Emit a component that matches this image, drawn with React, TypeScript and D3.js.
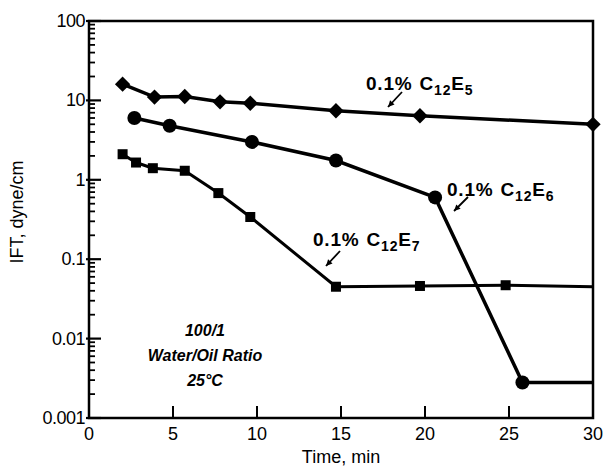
import * as d3 from "d3";

// IFT vs time, three surfactants
const e5Time = [2, 3.9, 5.7, 7.8, 9.6, 14.7, 19.7, 30];
const e5Ift = [16, 11, 11.2, 9.6, 9.2, 7.4, 6.4, 5.0];

const e6Time = [2.7, 4.8, 9.7, 14.7, 20.6, 25.8, 30];
const e6Ift = [6.0, 4.8, 3.0, 1.75, 0.6, 0.0028, 0.0028];
const e6Marked = [true, true, true, true, true, true, false];

const e7Time = [2, 2.8, 3.8, 5.7, 7.7, 9.6, 14.7, 19.7, 24.8, 30];
const e7Ift = [2.1, 1.65, 1.4, 1.3, 0.68, 0.34, 0.045, 0.046, 0.047, 0.045];
const e7Marked = [true, true, true, true, true, true, true, true, true, false];

const xTicks = [0, 5, 10, 15, 20, 25, 30];
const yTicks = [0.001, 0.01, 0.1, 1, 10, 100];
const yTickLabels = ["0.001", "0.01", "0.1", "1", "10", "100"];

const W = 605;
const H = 467;
const font = "'Liberation Sans', Arial, sans-serif";

const x = d3.scaleLinear().domain([0, 30]).range([89, 593]);
const y = d3.scaleLog().domain([0.001, 100]).range([418, 21]);

const line = d3
  .line<[number, number]>()
  .x((d) => x(d[0]))
  .y((d) => y(d[1]));

const zip = (t: number[], v: number[]) => t.map((d, i) => [d, v[i]] as [number, number]);

// minor ticks 2..9 inside each decade
const minorTicks: number[] = [];
yTicks.slice(0, -1).forEach((d) => {
  for (let k = 2; k <= 9; k++) minorTicks.push(d * k);
});

const Label = ({ lx, ly, n }: { lx: number; ly: number; n: string }) => (
  <text x={lx} y={ly} fontFamily={font} fontWeight="bold" fontSize={19} letterSpacing={0.8}>
    0.1%
    <tspan dx={7}>C</tspan>
    <tspan fontSize={14} dy={5}>12</tspan>
    <tspan dy={-5}>E</tspan>
    <tspan fontSize={14} dy={5}>{n}</tspan>
  </text>
);

const Arrow = ({ x1, y1, x2, y2 }: { x1: number; y1: number; x2: number; y2: number }) => {
  const a = Math.atan2(y2 - y1, x2 - x1);
  const s = 7;
  const p1 = [x2 - s * Math.cos(a - 0.45), y2 - s * Math.sin(a - 0.45)];
  const p2 = [x2 - s * Math.cos(a + 0.45), y2 - s * Math.sin(a + 0.45)];
  return (
    <g>
      <line x1={x1} y1={y1} x2={x2} y2={y2} stroke="#000" strokeWidth={1.8} />
      <path d={`M${x2},${y2}L${p1[0]},${p1[1]}L${p2[0]},${p2[1]}Z`} fill="#000" />
    </g>
  );
};

export default function App() {
  const e5 = zip(e5Time, e5Ift);
  const e6 = zip(e6Time, e6Ift);
  const e7 = zip(e7Time, e7Ift);

  return (
    <div style={{ position: "fixed", left: 0, top: 0, width: W, height: H, background: "#fff" }}>
      <svg width={W} height={H}>
        <rect width={W} height={H} fill="#fff" />

        {/* frame */}
        <rect
          x={x(0)}
          y={y(100)}
          width={x(30) - x(0)}
          height={y(0.001) - y(100)}
          fill="none"
          stroke="#000"
          strokeWidth={2.5}
        />

        {/* y ticks */}
        {yTicks.map((d, i) => (
          <g key={"yt" + d}>
            <line x1={x(0) - 3} x2={x(0) + 12} y1={y(d)} y2={y(d)} stroke="#000" strokeWidth={2.2} />
            <text
              x={x(0) - 4}
              y={y(d) + 6}
              textAnchor="end"
              fontFamily={font}
              fontSize={18}
              letterSpacing={-0.5}
            >
              {yTickLabels[i]}
            </text>
          </g>
        ))}
        {minorTicks.map((d) => (
          <line key={"ym" + d} x1={x(0)} x2={x(0) + 6} y1={y(d)} y2={y(d)} stroke="#000" strokeWidth={1.8} />
        ))}

        {/* x ticks */}
        {xTicks.map((d) => (
          <g key={"xt" + d}>
            {d > 0 && d < 30 && (
              <line x1={x(d)} x2={x(d)} y1={y(0.001)} y2={y(0.001) - 12} stroke="#000" strokeWidth={2} />
            )}
            <text x={x(d)} y={y(0.001) + 22} textAnchor="middle" fontFamily={font} fontSize={18}>
              {d}
            </text>
          </g>
        ))}

        {/* axis titles */}
        <text x={x(15)} y={463} textAnchor="middle" fontFamily={font} fontSize={18}>
          Time, min
        </text>
        <text
          transform={`translate(23,212) rotate(-90)`}
          textAnchor="middle"
          fontFamily={font}
          fontSize={18}
        >
          IFT, dyne/cm
        </text>

        {/* series lines */}
        <path d={line(e5) || ""} fill="none" stroke="#000" strokeWidth={3.5} />
        <path d={line(e6) || ""} fill="none" stroke="#000" strokeWidth={3.5} />
        <path d={line(e7) || ""} fill="none" stroke="#000" strokeWidth={3} />

        {/* markers */}
        {e5.map((d, i) => (
          <path
            key={"d" + i}
            d={d3.symbol(d3.symbolDiamond2, 150)() || ""}
            transform={`translate(${x(d[0])},${y(d[1])})`}
            fill="#000"
          />
        ))}
        {e6.map((d, i) =>
          e6Marked[i] ? <circle key={"c" + i} cx={x(d[0])} cy={y(d[1])} r={7} fill="#000" /> : null
        )}
        {e7.map((d, i) =>
          e7Marked[i] ? (
            <rect key={"s" + i} x={x(d[0]) - 5} y={y(d[1]) - 5} width={10} height={10} fill="#000" />
          ) : null
        )}

        {/* annotations */}
        <Label lx={366} ly={90} n="5" />
        <Arrow x1={402} y1={92} x2={388} y2={107} />
        <Label lx={447} ly={196} n="6" />
        <Arrow x1={468} y1={197} x2={454} y2={211} />
        <Label lx={313} ly={246} n="7" />
        <Arrow x1={340} y1={251} x2={326} y2={266} />

        <g fontFamily={font} fontWeight="bold" fontStyle="italic" fontSize={16} textAnchor="middle">
          <text x={205} y={336}>100/1</text>
          <text x={205} y={361}>Water/Oil Ratio</text>
          <text x={205} y={386}>25°C</text>
        </g>
      </svg>
    </div>
  );
}
